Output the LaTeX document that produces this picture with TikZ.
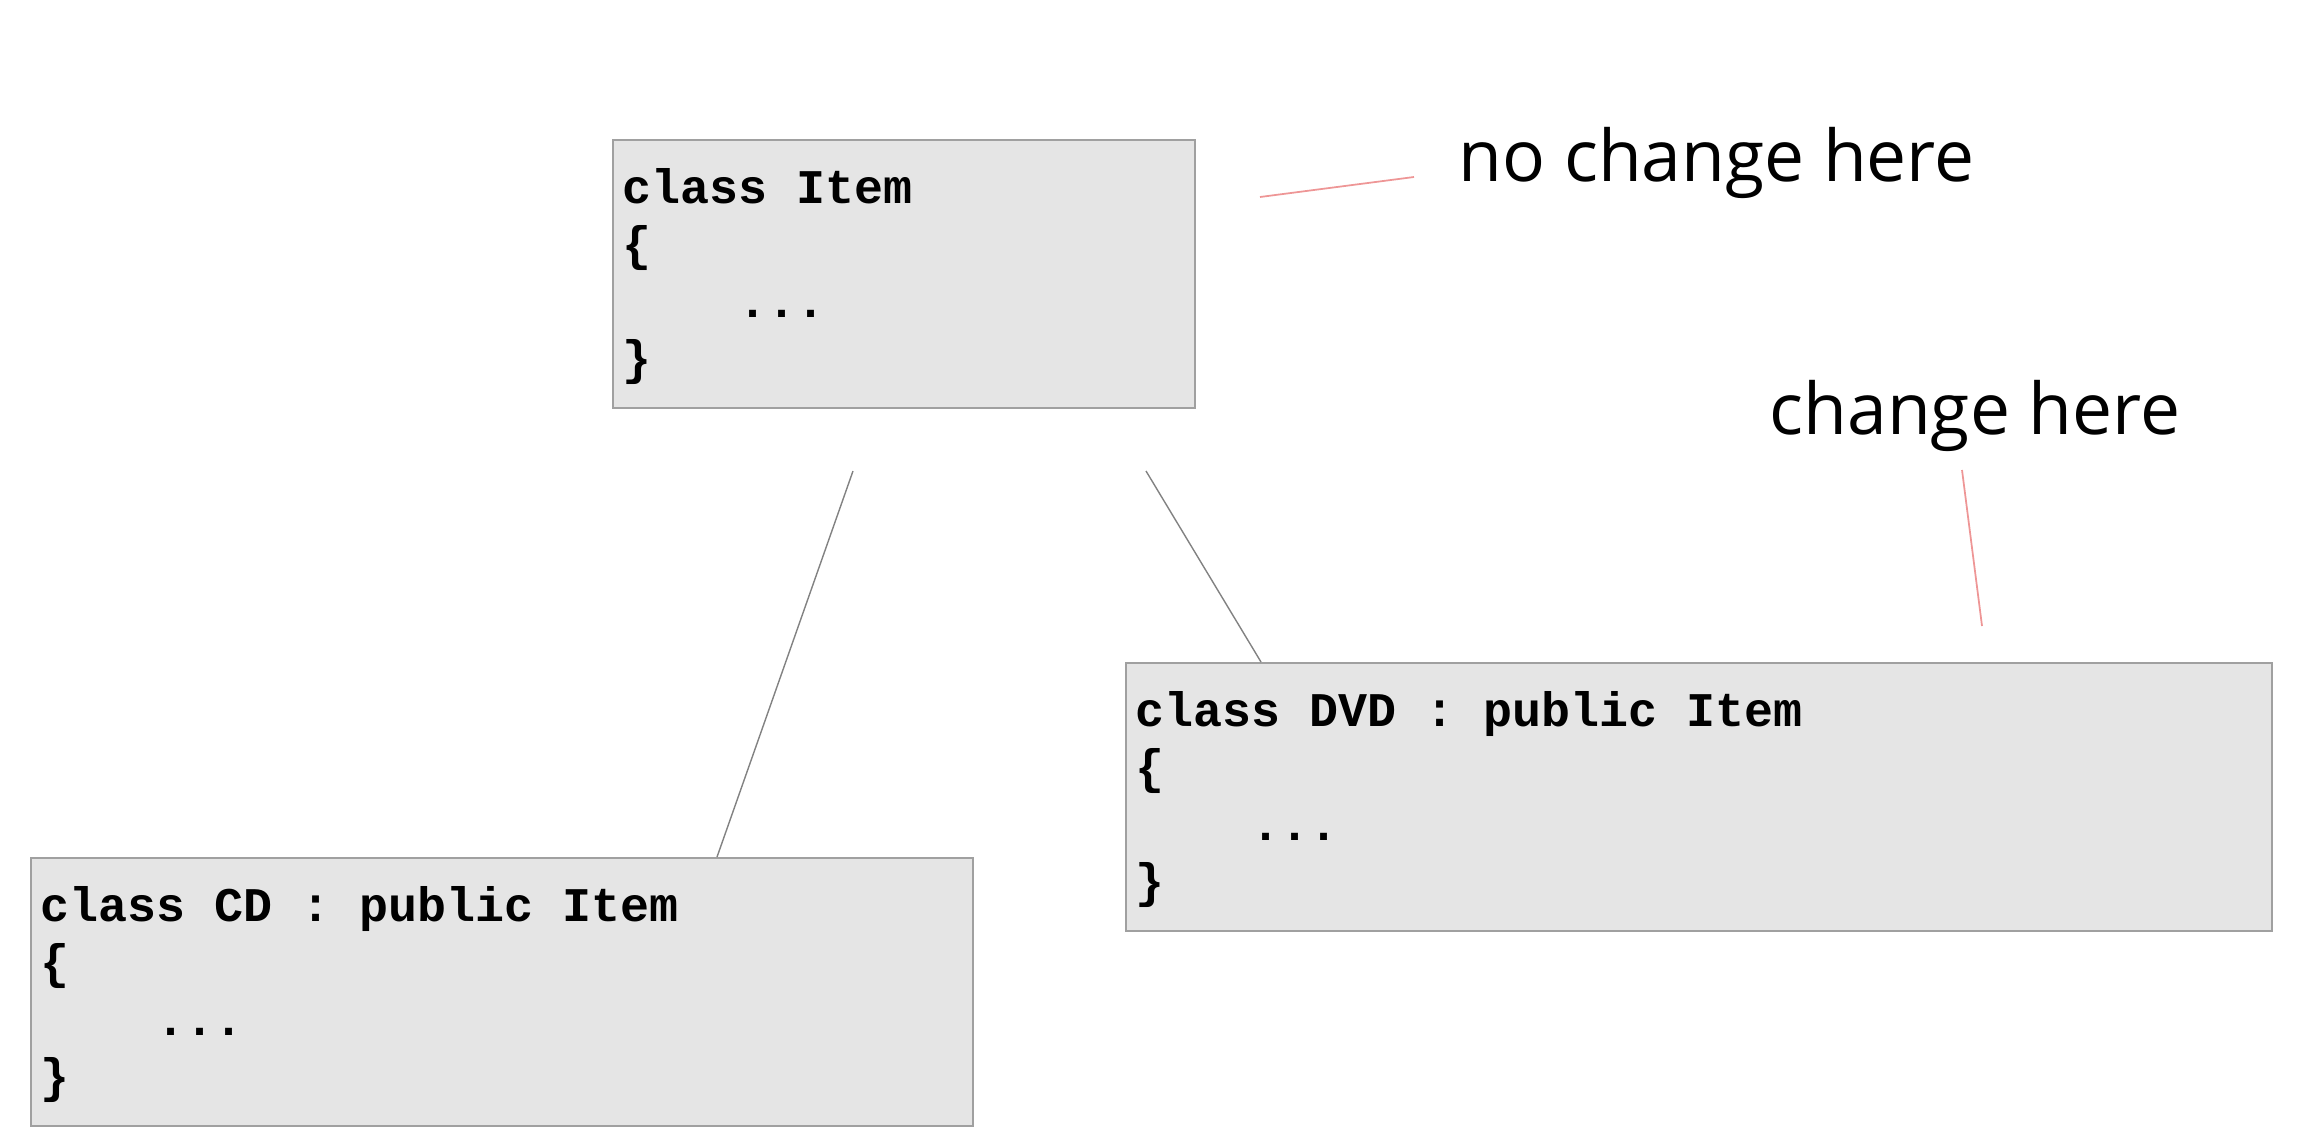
\documentclass[tikz,border=0pt]{standalone}
\usepackage{fontspec}
\setmonofont{Liberation Mono}
\newfontfamily\notefont{Open Sans}
\usetikzlibrary{calc}

\definecolor{boxfill}{RGB}{229,229,229}
\definecolor{boxline}{RGB}{160,160,160}
\definecolor{linkgray}{RGB}{130,130,130}
\definecolor{notepink}{RGB}{238,150,150}

% code inside one class box: width, height, first line
\newcommand{\classcode}[3]{%
  \parbox[t][#2][t]{#1}{\rule{0pt}{6.4mm}#3\\
  \{\\
  \phantom{0000}...\\
  \}}}

\begin{document}
\begin{tikzpicture}[x=0.1mm,y=-0.1mm]
        \tikzset{
          classbox/.style={draw=boxline,fill=boxfill,line width=0.5pt,
            inner xsep=1mm,inner ysep=0pt,anchor=north west,
            font=\ttfamily\bfseries\fontsize{13.75pt}{16.2pt}\selectfont},
          note/.style={anchor=base west,inner sep=0pt,
            font=\notefont\fontsize{20.3pt}{24pt}\selectfont},
          link/.style={draw=linkgray,line width=0.4pt},
          notelink/.style={draw=notepink,line width=0.5pt}
        }
        \useasboundingbox (0,0) rectangle (2319,1142);
        % class boxes
        \node[classbox] (item) at (612,139) {\classcode{56.2mm}{26.8mm}{class Item}};
        \node[classbox] (cd) at (30,857) {\classcode{92.2mm}{26.8mm}{class CD : public Item}};
        \node[classbox] (dvd) at (1125,662) {\classcode{112.6mm}{26.8mm}{class DVD : public Item}};
        % inheritance lines
        \coordinate (cdstart) at (853,471);
        \coordinate (dvdstart) at (1146,471);
        \draw[link] (cdstart) -- ($(cd.north west)+(687,0)$);
        \draw[link] (dvdstart) -- ($(dvd.north west)+(136,0)$);
        % notes
        \node[note] (nochange) at (1458,181) {no change here};
        \node[note] (change) at (1769,434) {change here};
        \coordinate (nochangetip) at (1260,197);
        \coordinate (changetip) at (1982,626);
        \draw[notelink] (nochangetip) -- ($(nochange.base west)+(-44,-4)$);
        \draw[notelink] ($(change.base west)+(193,36)$) -- (changetip);
    \end{tikzpicture}
\end{document}
